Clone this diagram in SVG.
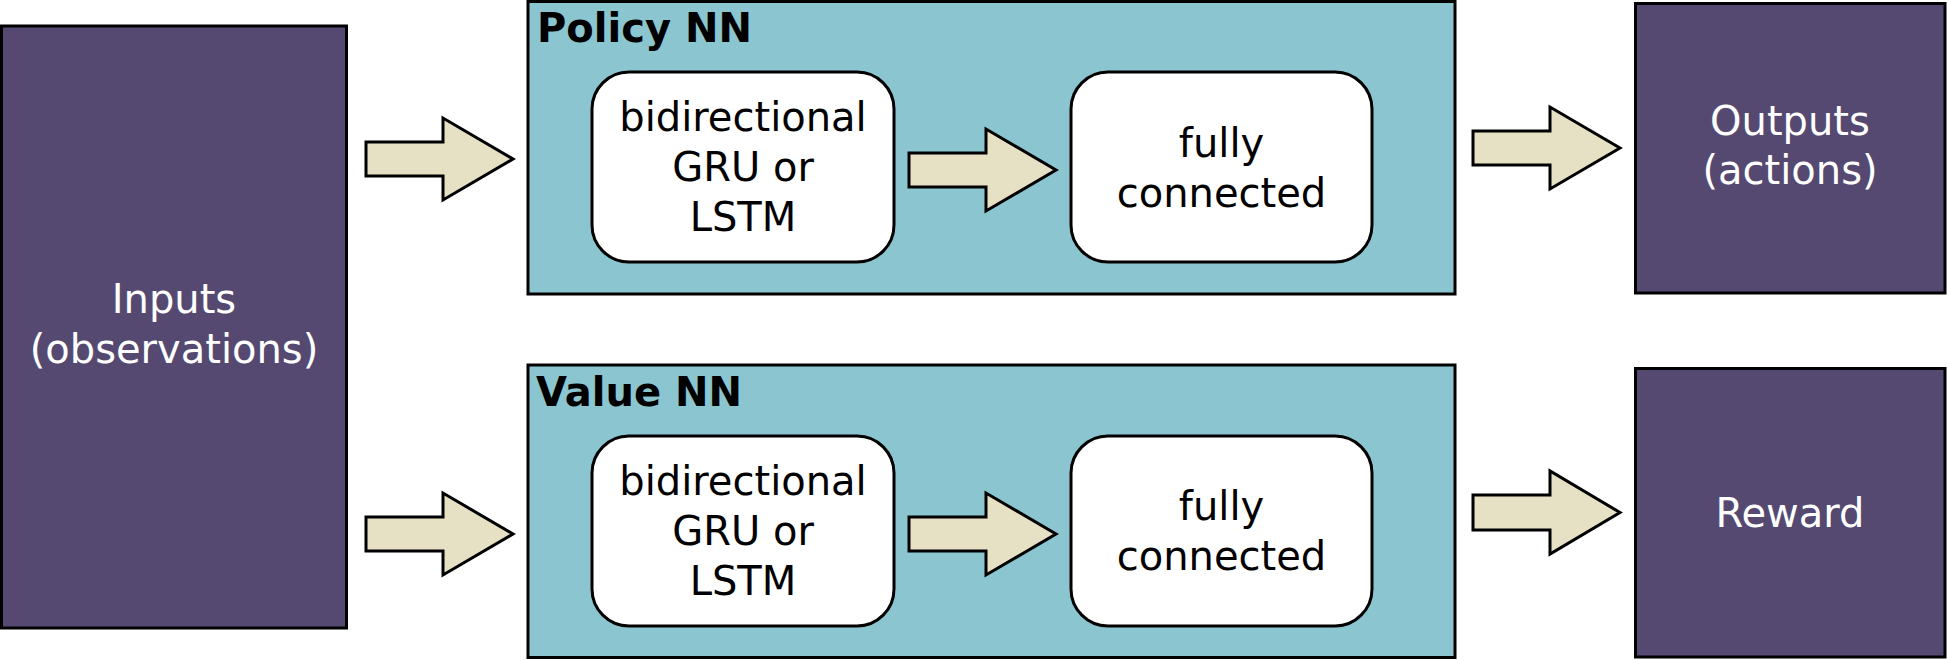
<svg xmlns="http://www.w3.org/2000/svg" width="1947" height="660" viewBox="0 0 1947 660">
<style>
.io{fill:#554971;stroke:#000;stroke-width:3}
.nn{fill:#8BC6D0;stroke:#000;stroke-width:3}
.layer{fill:#fff;stroke:#000;stroke-width:3}
.arrow{fill:#E6E1C5;stroke:#000;stroke-width:3;stroke-linejoin:miter}
text{font-family:"DejaVu Sans","Liberation Sans",sans-serif;font-size:40px}
.w{fill:#fff;text-anchor:middle}
.b{fill:#000;text-anchor:middle}
.t{fill:#000;font-weight:bold}
</style>
<rect width="1947" height="660" fill="#fff"/>
<g id="inputs">
<rect class="io" x="1.5" y="26" width="345" height="602"/>
<text class="w" x="174" y="313">Inputs</text>
<text class="w" x="174" y="363">(observations)</text>
</g>
<g id="policy-nn">
<rect class="nn" x="528" y="1.5" width="927" height="292.5"/>
<text class="t" x="537" y="42">Policy NN</text>
</g>
<g id="policy-rnn">
<rect class="layer" x="592" y="72" width="302" height="190" rx="37"/>
<text class="b" x="743" y="131">bidirectional</text>
<text class="b" x="743" y="181">GRU or</text>
<text class="b" x="743" y="231">LSTM</text>
</g>
<g id="policy-fc">
<rect class="layer" x="1071" y="72" width="301" height="190" rx="37"/>
<text class="b" x="1221.5" y="157">fully</text>
<text class="b" x="1221.5" y="207">connected</text>
</g>
<g id="value-nn">
<rect class="nn" x="528" y="365" width="927" height="292.5"/>
<text class="t" x="536" y="406">Value NN</text>
</g>
<g id="value-rnn">
<rect class="layer" x="592" y="436" width="302" height="190" rx="37"/>
<text class="b" x="743" y="495">bidirectional</text>
<text class="b" x="743" y="545">GRU or</text>
<text class="b" x="743" y="595">LSTM</text>
</g>
<g id="value-fc">
<rect class="layer" x="1071" y="436" width="301" height="190" rx="37"/>
<text class="b" x="1221.5" y="520">fully</text>
<text class="b" x="1221.5" y="570">connected</text>
</g>
<g id="outputs">
<rect class="io" x="1635.5" y="3.5" width="309.5" height="289.5"/>
<text class="w" x="1790" y="135">Outputs</text>
<text class="w" x="1790" y="184">(actions)</text>
</g>
<g id="reward">
<rect class="io" x="1635.5" y="368.5" width="309.5" height="288.5"/>
<text class="w" x="1790" y="527">Reward</text>
</g>
<g id="connectors">
<path class="arrow" d="M366,142 H443 V118 L513,159 L443,200 V176 H366 Z"/>
<path class="arrow" d="M366,517 H443 V493 L513,534 L443,575 V551 H366 Z"/>
<path class="arrow" d="M909,153 H986 V129 L1056,170 L986,211 V187 H909 Z"/>
<path class="arrow" d="M909,517 H986 V493 L1056,534 L986,575 V551 H909 Z"/>
<path class="arrow" d="M1473,131 H1550 V107 L1620,148 L1550,189 V165 H1473 Z"/>
<path class="arrow" d="M1473,495 H1550 V471 L1620,512.5 L1550,554 V530 H1473 Z"/>
</g>
</svg>
